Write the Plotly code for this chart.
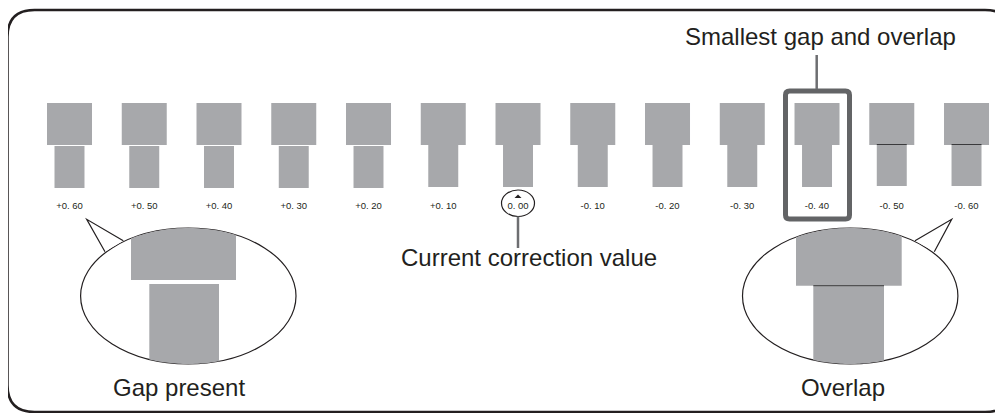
import numpy as np
import plotly.graph_objects as go

# correction values printed under each test pattern
LABELS = ["+0. 60", "+0. 50", "+0. 40", "+0. 30", "+0. 20", "+0. 10", "0. 00",
          "-0. 10", "-0. 20", "-0. 30", "-0. 40", "-0. 50", "-0. 60"]
# length of the upper and lower block of each pattern (px)
UPPER_LEN = [42, 42, 42, 42, 42, 42, 42, 42, 42, 42, 42, 42, 42]
LOWER_LEN = [42, 42, 42, 42, 42, 42, 42, 42, 42, 42, 42, 42, 42]
# gap (+) / overlap (-) between the two blocks (px)
GAP = [1, 1, 1, 1, 1, 0, 0, 0, 0, 0, 0, -1, -1]

# the page body has an 8px margin, so the figure covers window px 8..1003 / 8..413
OFF = 8
X_END, Y_END = 1003, 413
W, H = X_END - OFF, Y_END - OFF
GREY = "#a7a8ab"
INK = "#231f20"
DARK = "#636466"
FONT = "Arial, Liberation Sans, Helvetica, sans-serif"

TOP_Y = 103
upper_end = [TOP_Y + u for u in UPPER_LEN]
lower_base = [e + g for e, g in zip(upper_end, GAP)]

fig = go.Figure()
fig.add_trace(go.Bar(x=LABELS, y=UPPER_LEN, base=[TOP_Y] * len(LABELS), width=0.602,
                     marker=dict(color=GREY, line_width=0), hoverinfo="skip"))
fig.add_trace(go.Bar(x=LABELS, y=LOWER_LEN, base=lower_base, width=0.401,
                     marker=dict(color=GREY, line_width=0), hoverinfo="skip"))
# dark edge where the lower block overlaps the upper one
ov = [l for l, g in zip(LABELS, GAP) if g < 0]
ov_base = [b for b, g in zip(lower_base, GAP) if g < 0]
fig.add_trace(go.Bar(x=ov, y=[1.0] * len(ov), base=ov_base, width=0.401,
                     marker=dict(color="#3a3a3c", line_width=0), hoverinfo="skip"))
fig.add_trace(go.Scatter(x=LABELS, y=[206.5] * len(LABELS), mode="text", text=LABELS,
                         textfont=dict(size=9.5, color=INK, family=FONT), hoverinfo="skip"))
# helper trace so the pixel overlay axis exists
fig.add_trace(go.Scatter(x=[500], y=[100], xaxis="x2", mode="markers",
                         marker=dict(opacity=0), hoverinfo="skip"))


def rrect(x0, y0, x1, y1, r):
    return (f"M{x0 + r},{y0} H{x1 - r} Q{x1},{y0} {x1},{y0 + r} V{y1 - r} "
            f"Q{x1},{y1} {x1 - r},{y1} H{x0 + r} Q{x0},{y1} {x0},{y1 - r} "
            f"V{y0 + r} Q{x0},{y0} {x0 + r},{y0} Z")


def ell_y(cx, cy, rx, ry, x, upper):
    d = ry * np.sqrt(max(0.0, 1 - ((x - cx) / rx) ** 2))
    return cy - d if upper else cy + d


def clipped_top(cx, cy, rx, ry, x0, x1, yb):
    xs = np.linspace(x0, x1, 30)
    pts = " ".join(f"L{x:.2f},{ell_y(cx, cy, rx, ry, x, True):.2f}" for x in xs)
    return "M" + pts[1:] + f" L{x1},{yb} L{x0},{yb} Z"


def clipped_bottom(cx, cy, rx, ry, x0, x1, yt):
    xs = np.linspace(x1, x0, 30)
    pts = " ".join(f"L{x:.2f},{ell_y(cx, cy, rx, ry, x, False):.2f}" for x in xs)
    return f"M{x0},{yt} L{x1},{yt} " + pts + " Z"


shapes = []


def add(**kw):
    kw.setdefault("xref", "x2")
    kw.setdefault("yref", "y")
    shapes.append(kw)


# outer frame
add(type="path", path=rrect(7.5, 10, 1012, 412, 27), line=dict(color=INK, width=2.5))

# marker round the current value
add(type="circle", x0=501.5, x1=534.5, y0=190, y1=216.5, line=dict(color=INK, width=1.2))
add(type="path", path="M514.5,198 L521.5,198 L518,194.5 Z", fillcolor=INK, line_width=0)
add(type="line", x0=518, x1=518, y0=216.5, y1=248, line=dict(color="#6d6e71", width=2.5))

# highlight box
add(type="path", path=rrect(785.5, 91, 849.5, 219, 4), line=dict(color=DARK, width=5))
add(type="line", x0=816.7, x1=816.7, y0=55, y1=89, line=dict(color="#6d6e71", width=2.5))

# callouts
for cx, tail in [(188.3, [(123.3, 240.7), (86.7, 219.3), (105, 251.7)]),
                 (850.2, [(915, 240.7), (951.7, 219.3), (934.3, 251.7)])]:
    add(type="circle", x0=cx - 107.7, x1=cx + 107.7, y0=228, y1=364,
        fillcolor="white", line=dict(color=INK, width=1.2))
    (ax, ay), (tx, ty), (bx, by) = tail
    add(type="path", path=f"M{ax},{ay} L{tx},{ty} L{bx},{by} Z", fillcolor="white", line_width=0)
    add(type="path", path=f"M{ax},{ay} L{tx},{ty} L{bx},{by}", line=dict(color=INK, width=1.2))

# magnified gap
add(type="path", path=clipped_top(188.3, 296, 107.7, 68, 131, 236, 280), fillcolor=GREY, line_width=0)
add(type="path", path=clipped_bottom(188.3, 296, 107.7, 68, 149.3, 219, 284), fillcolor=GREY, line_width=0)
# magnified overlap
add(type="path", path=clipped_top(850.2, 296, 107.7, 68, 796, 901.7, 285.7), fillcolor=GREY, line_width=0)
add(type="path", path=clipped_bottom(850.2, 296, 107.7, 68, 813.3, 884, 285.7), fillcolor=GREY, line_width=0)
add(type="line", x0=813.3, x1=884, y0=285.7, y1=285.7, line=dict(color="#3a3a3c", width=1))

texts = [("Smallest gap and overlap", 820, 36),
         ("Current correction value", 529, 257),
         ("Gap present", 178.5, 387.5),
         ("Overlap", 843, 387)]
annotations = [dict(text=t, x=x, y=y, xref="x2", yref="y", showarrow=False,
                    xanchor="center", yanchor="middle",
                    font=dict(size=24, color=INK, family=FONT)) for t, x, y in texts]

fig.update_layout(
    width=W, height=H, margin=dict(l=0, r=0, t=0, b=0),
    paper_bgcolor="white", plot_bgcolor="white",
    barmode="overlay", showlegend=False,
    shapes=shapes, annotations=annotations,
    xaxis=dict(range=[-0.8227, 12.488], visible=False, fixedrange=True),
    xaxis2=dict(range=[OFF, X_END], overlaying="x", visible=False, fixedrange=True),
    yaxis=dict(range=[Y_END, OFF], visible=False, fixedrange=True),
)
fig.write_html("out.html")
